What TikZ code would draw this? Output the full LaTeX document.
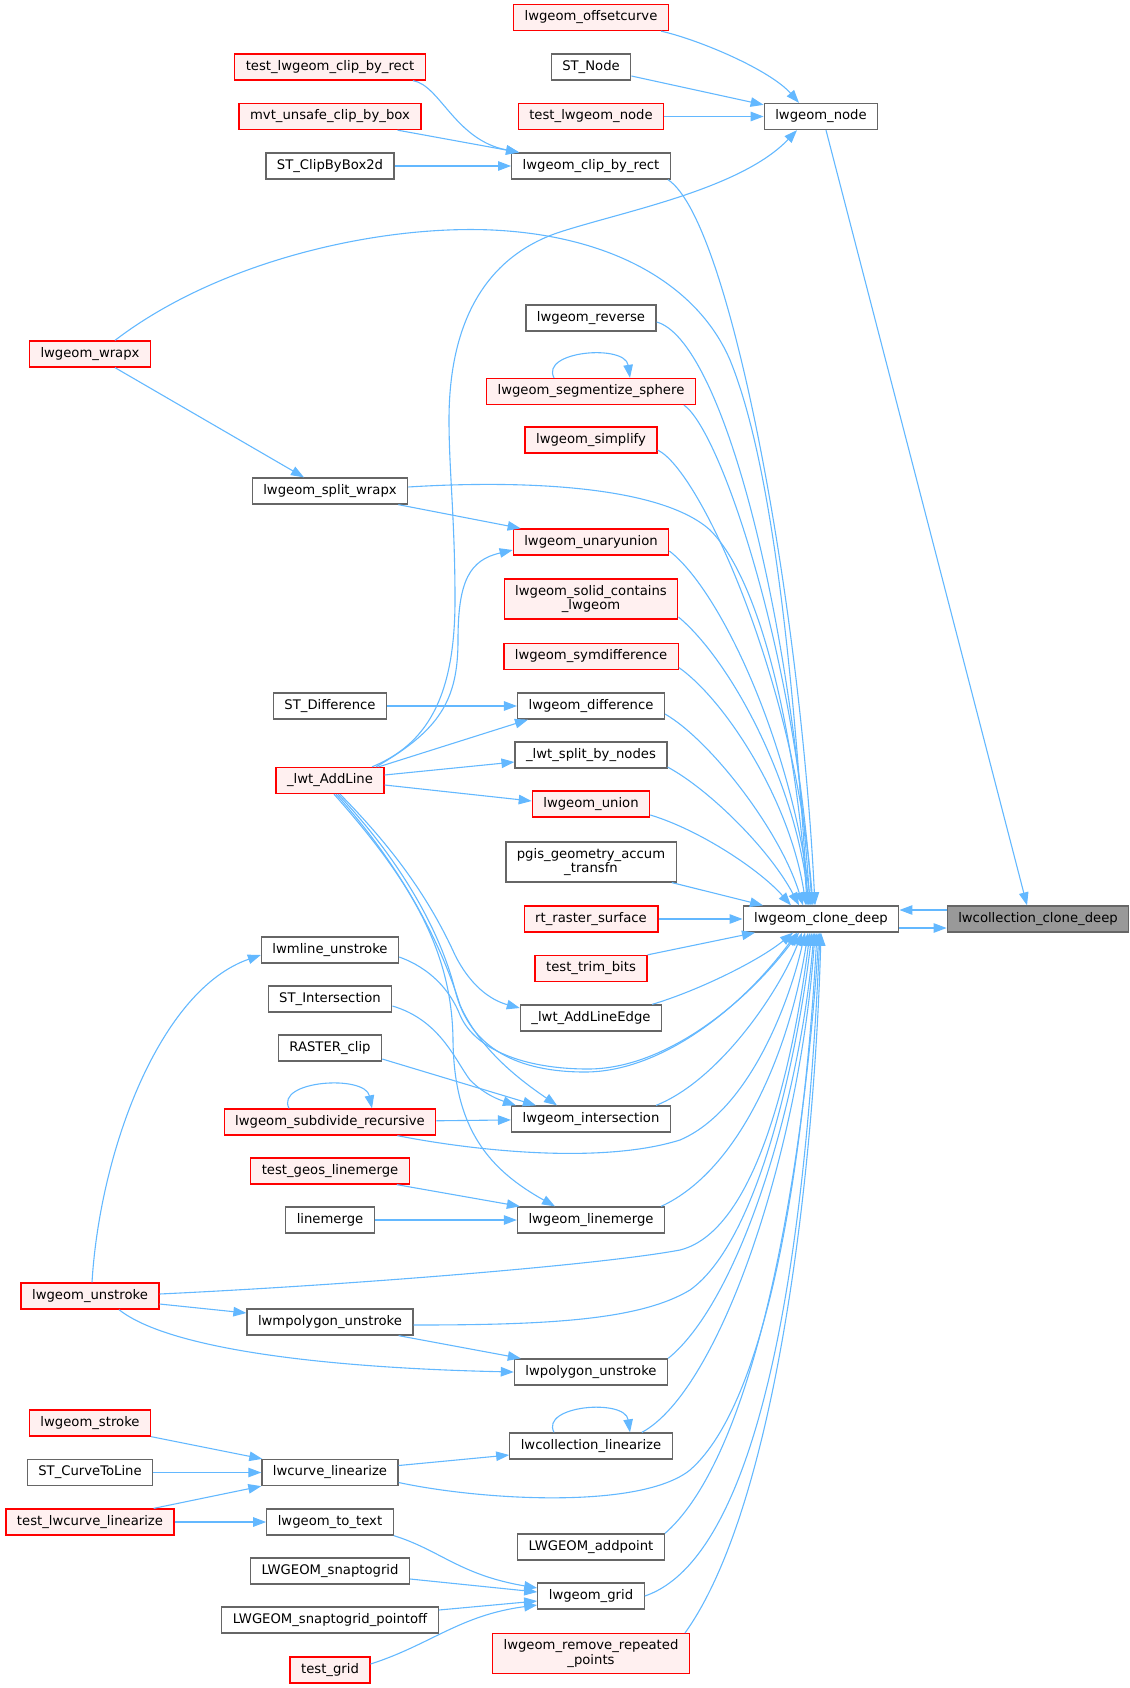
\documentclass[tikz,border=0pt]{standalone}
\usepackage{fontspec}
\setmainfont{DejaVu Sans}
\usetikzlibrary{arrows.meta}
\definecolor{linkblue}{HTML}{63B8FF}
\definecolor{hotfill}{HTML}{FFF0F0}
\definecolor{boxgray}{HTML}{666666}
\definecolor{mainfill}{HTML}{999999}

\begin{document}
\begin{tikzpicture}[x=1pt,y=-1pt,
    fn/.style={draw=boxgray,fill=white,line width=1.3pt,inner xsep=11pt,inner ysep=6pt,
      minimum height=26pt,font=\fontsize{13.2}{14.7}\selectfont,align=center},
    hot/.style={draw=red,fill=hotfill},
    focus/.style={fill=mainfill},
    call/.style={draw=linkblue,line width=1.1pt,-{Triangle[length=13pt,width=9.5pt]}}]

        \useasboundingbox (0,0) rectangle (1129,1688);

        \begin{scope}[every node/.style={fn}]
          \node[hot] (offc)   at (591,17.5)  {lwgeom\_offsetcurve};
          \node (stnode)      at (591,67)    {ST\_Node};
          \node[hot] (tclip)  at (330,67)    {test\_lwgeom\_clip\_by\_rect};
          \node[hot] (mvt)    at (330,116.5) {mvt\_unsafe\_clip\_by\_box};
          \node[hot] (tnode)  at (591,116.5) {test\_lwgeom\_node};
          \node (lnode)       at (821,116.5) {lwgeom\_node};
          \node (stclip)      at (330,166)   {ST\_ClipByBox2d};
          \node (lclip)       at (591,166)   {lwgeom\_clip\_by\_rect};
          \node[hot] (wrapx)  at (90,354)    {lwgeom\_wrapx};
          \node (rev)         at (591,318)   {lwgeom\_reverse};
          \node[hot] (seg)    at (591,391.5) {lwgeom\_segmentize\_sphere};
          \node[hot] (simp)   at (591,440)   {lwgeom\_simplify};
          \node (split)       at (330,491)   {lwgeom\_split\_wrapx};
          \node[hot] (unary)  at (591,542)   {lwgeom\_unaryunion};
          \node[hot] (solid)  at (591,599)   {lwgeom\_solid\_contains\\\_lwgeom};
          \node[hot] (symd)   at (591,656.5) {lwgeom\_symdifference};
          \node (stdiff)      at (330,706)   {ST\_Difference};
          \node (diff)        at (591,706)   {lwgeom\_difference};
          \node (sbn)         at (591,755)   {\_lwt\_split\_by\_nodes};
          \node[hot] (addl)   at (330,780.5) {\_lwt\_AddLine};
          \node[hot] (union)  at (591,804)   {lwgeom\_union};
          \node (pgis)        at (591,862)   {pgis\_geometry\_accum\\\_transfn};
          \node (cd)          at (821,919)   {lwgeom\_clone\_deep};
          \node[focus] (ccd)  at (1038,919)  {lwcollection\_clone\_deep};
          \node[hot] (rts)    at (591,919)   {rt\_raster\_surface};
          \node (mline)       at (330,950)   {lwmline\_unstroke};
          \node[hot] (trim)   at (591,968.5) {test\_trim\_bits};
          \node (stint)       at (330,999)   {ST\_Intersection};
          \node (ale)         at (591,1018)  {\_lwt\_AddLineEdge};
          \node (rclip)       at (330,1048)  {RASTER\_clip};
          \node[hot] (subd)   at (330,1122)  {lwgeom\_subdivide\_recursive};
          \node (inter)       at (591,1119)  {lwgeom\_intersection};
          \node[hot] (tglm)   at (330,1171)  {test\_geos\_linemerge};
          \node (lm)          at (330,1220)  {linemerge};
          \node (glm)         at (591,1220)  {lwgeom\_linemerge};
          \node[hot] (unst)   at (90,1296)   {lwgeom\_unstroke};
          \node (mpoly)       at (330,1322)  {lwmpolygon\_unstroke};
          \node (poly)        at (591,1372)  {lwpolygon\_unstroke};
          \node[hot] (stroke) at (90,1423)   {lwgeom\_stroke};
          \node (clin)        at (591,1446)  {lwcollection\_linearize};
          \node (c2l)         at (90,1472.5) {ST\_CurveToLine};
          \node (curve)       at (330,1472.5) {lwcurve\_linearize};
          \node[hot] (tcl)    at (90,1522)   {test\_lwcurve\_linearize};
          \node (totext)      at (330,1522)  {lwgeom\_to\_text};
          \node (addp)        at (591,1547)  {LWGEOM\_addpoint};
          \node (snap)        at (330,1571)  {LWGEOM\_snaptogrid};
          \node (lgrid)       at (591,1596)  {lwgeom\_grid};
          \node (snapp)       at (330,1620)  {LWGEOM\_snaptogrid\_pointoff};
          \node[hot] (tgrid)  at (330,1670)  {test\_grid};
          \node[hot] (rrp)    at (591,1653.5) {lwgeom\_remove\_repeated\\\_points};
        \end{scope}

        \begin{scope}[every edge/.style={call}]
          \path ([yshift=-9pt]stnode.east) edge ([yshift=-2pt]lnode.north west);
          \path (tnode) edge (lnode);
          \path ([xshift=-24pt]mvt.south east) edge ([xshift=8pt]lclip.north west);
          \path (stclip) edge (lclip);
          \path ([xshift=5pt]lnode.south) edge ([xshift=-11pt]ccd.north);
          \path ([xshift=25pt]wrapx.south) edge ([xshift=-26pt]split.north);
          \path ([xshift=-10pt]split.south east) edge ([xshift=8pt]unary.north west);
          \path (stdiff) edge (diff);
          \path ([xshift=-6pt]addl.north east) edge ([xshift=11pt]diff.south west);
          \path ([yshift=5.5pt]addl.east) edge ([yshift=-7pt]sbn.west);
          \path ([yshift=-4.5pt]addl.east) edge ([yshift=3pt]union.west);
          \path ([xshift=-5pt]pgis.south east) edge ([xshift=-58pt]cd.north);
          \path (rts) edge (cd);
          \path (trim.north east) edge ([xshift=-66pt]cd.south);
          \path ([yshift=-11pt]rclip.east) edge ([xshift=25pt]inter.north west);
          \path (subd) edge (inter);
          \path ([xshift=-13pt]tglm.south east) edge ([xshift=3pt]glm.north west);
          \path (lm) edge (glm);
          \path ([yshift=-8pt]unst.east) edge ([yshift=9pt]mpoly.west);
          \path ([xshift=-15pt]mpoly.south east) edge ([xshift=7pt]poly.north west);
          \path (stroke.south east) edge ([xshift=1pt]curve.north west);
          \path (c2l) edge (curve);
          \path ([xshift=-21pt]tcl.north east) edge (curve.south west);
          \path (tcl) edge (totext);
          \path ([yshift=7pt]curve.east) edge ([yshift=-9pt]clin.west);
          \path ([yshift=-8pt]snap.east) edge ([yshift=4pt]lgrid.west);
          \path ([yshift=10pt]snapp.east) edge ([yshift=-5pt]lgrid.west);
          \path ([yshift=9pt]ccd.west) edge ([yshift=9pt]cd.east);
          \path ([yshift=-9pt]cd.east) edge ([yshift=-9pt]ccd.west);
        \end{scope}

        \draw[call] ([xshift=-8pt]offc.south east) .. controls (700,40) and (770,70) .. ([xshift=-22pt]lnode.north);
        \draw[call] ([xshift=-13pt]tclip.south east) .. controls (440,85) and (455,140) .. ([xshift=8pt]lclip.north west);
        \draw[call] ([xshift=-3pt]lclip.south east) .. controls (730,220) and (800,600) .. ([xshift=-6pt]cd.north);
        \draw[call] ([xshift=42pt]addl.north) .. controls (425,745) and (455,700) .. (455,600)
          .. controls (455,520) and (449,470) .. (449,420) .. controls (449,330) and (480,260) .. (557,233)
          .. controls (620,212) and (740,190) .. ([xshift=-24pt]lnode.south);
        \draw[call] ([xshift=25pt]wrapx.north) .. controls (220,260) and (380,225) .. (492,230)
          .. controls (620,236) and (700,290) .. (730,360) .. controls (775,470) and (795,700) .. ([xshift=-13pt]cd.north);
        \draw[call] ([yshift=-4pt]rev.east) .. controls (720,340) and (790,600) .. ([xshift=-11pt]cd.north);
        \draw[call] ([xshift=-37pt]seg.north) .. controls +(-14,-27) and +(-5,-34) .. ([xshift=39pt]seg.north);
        \draw[call] ([xshift=-12pt]seg.south east) .. controls (720,430) and (795,650) .. ([xshift=-9pt]cd.north);
        \draw[call] ([yshift=-10pt]simp.east) .. controls (700,470) and (795,680) .. ([xshift=-8pt]cd.north);
        \draw[call] ([yshift=4pt]split.east) .. controls (520,480) and (660,485) .. (710,530)
          .. controls (770,590) and (800,780) .. ([xshift=-14pt]cd.north);
        \draw[call] ([yshift=-9pt]unary.east) .. controls (720,590) and (790,740) .. ([xshift=-10pt]cd.north);
        \draw[call] ([xshift=46pt]addl.north) .. controls (440,730) and (458,700) .. (458,640)
          .. controls (458,580) and (470,560) .. ([yshift=-8pt]unary.west);
        \draw[call] ([yshift=-18pt]solid.east) .. controls (730,660) and (795,780) .. ([xshift=-12pt]cd.north);
        \draw[call] ([yshift=-11pt]symd.east) .. controls (725,700) and (790,800) .. ([xshift=-15pt]cd.north);
        \draw[call] ([yshift=-8pt]diff.east) .. controls (710,740) and (780,830) .. ([xshift=-18pt]cd.north);
        \draw[call] ([yshift=-12pt]sbn.east) .. controls (710,790) and (770,850) .. ([xshift=-22pt]cd.north);
        \draw[call] ([yshift=-11pt]union.east) .. controls (700,830) and (760,870) .. ([xshift=-30pt]cd.north);
        \draw[call] ([xshift=-10pt]ale.north east) .. controls (700,990) and (760,960) .. ([xshift=-28pt]cd.south);
        \draw[call] ([xshift=10pt]addl.south) .. controls (395,850) and (430,900) .. (455,955)
          .. controls (470,985) and (490,1000) .. ([yshift=10pt]ale.west);
        \draw[call] ([xshift=8pt]addl.south) .. controls (400,860) and (440,930) .. (455,990)
          .. controls (470,1050) and (520,1072) .. (585,1072) .. controls (660,1072) and (740,1010) .. ([xshift=-24pt]cd.south);
        \draw[call] ([yshift=-7pt]mline.east) .. controls (430,968) and (450,990) .. (460,1015)
          .. controls (475,1050) and (525,1069) .. (588,1069) .. controls (662,1069) and (742,1008) .. ([xshift=-22pt]cd.south);
        \draw[call] ([xshift=6pt]addl.south) .. controls (400,865) and (440,940) .. (460,1005)
          .. controls (480,1050) and (520,1080) .. ([xshift=-34pt]inter.north);
        \draw[call] ([xshift=4pt]addl.south) .. controls (410,880) and (452,950) .. (453,1040)
          .. controls (454,1130) and (490,1170) .. ([xshift=-36pt]glm.north);
        \draw[call] ([yshift=-7pt]stint.east) .. controls (440,1020) and (455,1060) .. (470,1080)
          .. controls (485,1095) and (500,1100) .. ([xshift=5pt]inter.north west);
        \draw[call] ([xshift=-41pt]subd.north) .. controls +(-14,-28) and +(-7,-34) .. ([xshift=42pt]subd.north);
        \draw[call] ([xshift=-39pt]subd.south east) .. controls (470,1150) and (600,1165) .. (680,1140)
          .. controls (750,1110) and (790,1000) .. ([xshift=-16pt]cd.south);
        \draw[call] ([xshift=-15pt]inter.north east) .. controls (720,1080) and (780,990) .. ([xshift=-19pt]cd.south);
        \draw[call] ([xshift=-4pt]glm.north east) .. controls (740,1170) and (790,1050) .. ([xshift=-13pt]cd.south);
        \draw[call] ([xshift=2pt]unst.north) .. controls (100,1150) and (160,990) .. ([yshift=-5pt]mline.west);
        \draw[call] ([yshift=2pt]unst.east) .. controls (350,1285) and (600,1265) .. (680,1250)
          .. controls (760,1230) and (795,1050) .. ([xshift=-11pt]cd.south);
        \draw[call] ([xshift=29pt]unst.south) .. controls (170,1350) and (330,1368) .. (poly.west);
        \draw[call] ([yshift=-3pt]mpoly.east) .. controls (550,1325) and (640,1320) .. (690,1290)
          .. controls (760,1240) and (798,1050) .. ([xshift=-9pt]cd.south);
        \draw[call] (poly.north east) .. controls (740,1300) and (800,1100) .. ([xshift=-7pt]cd.south);
        \draw[call] ([xshift=-37pt]clin.north) .. controls +(-14,-27) and +(-5,-34) .. ([xshift=39pt]clin.north);
        \draw[call] ([xshift=-31pt]clin.north east) .. controls (720,1390) and (800,1150) .. ([xshift=-6pt]cd.south);
        \draw[call] ([yshift=-10pt]curve.east) .. controls (480,1500) and (640,1510) .. (690,1470)
          .. controls (770,1400) and (805,1150) .. ([xshift=-4pt]cd.south);
        \draw[call] (totext.south east) .. controls (440,1550) and (460,1575) .. ([yshift=8pt]lgrid.west);
        \draw[call] ([yshift=6pt]tgrid.east) .. controls (430,1645) and (460,1615) .. ([yshift=-9pt]lgrid.west);
        \draw[call] (addp.north east) .. controls (760,1450) and (805,1150) .. ([xshift=-2pt]cd.south);
        \draw[call] (lgrid.east) .. controls (780,1550) and (810,1150) .. ([xshift=-1pt]cd.south);
        \draw[call] ([xshift=-5pt]rrp.north east) .. controls (780,1500) and (815,1150) .. (cd.south);

      \end{tikzpicture}
\end{document}
